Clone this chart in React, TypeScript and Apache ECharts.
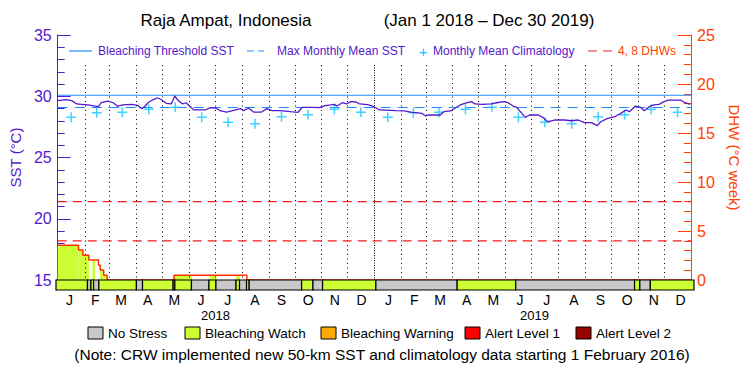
import React, { useEffect, useRef } from "react";
import * as echarts from "echarts";

// ---- data (x values are days since 2018-01-01) ----
const monthStarts = [0, 31, 59, 90, 120, 151, 181, 212, 243, 273, 304, 334, 365, 396, 424, 455, 485, 516, 546, 577, 608, 638, 669, 699, 730];
const monthLetters = ["J", "F", "M", "A", "M", "J", "J", "A", "S", "O", "N", "D"];
const years = ["2018", "2019"];
const yearMid = [182.5, 547.5];

const sstSeries: [number, number][] = [
  [0, 29.64], [10, 29.72], [16, 29.64], [22, 29.37], [27, 29.34], [35, 29.29], [43, 29.2], [47, 29.15], [50, 29.47], [58, 29.61],
  [64, 29.47], [69, 29.18], [75, 29.29], [85, 29.34], [92, 29.26], [97, 28.99], [101, 29.2], [104, 29.47], [109, 29.69], [115, 29.88],
  [120, 29.69], [125, 29.42], [131, 29.37], [135, 30.02], [139, 29.64], [144, 29.37], [148, 29.47], [151, 29.26], [157, 28.88], [170, 28.88],
  [176, 29.07], [182, 29.04], [188, 28.8], [195, 28.71], [205, 28.88], [211, 28.99], [214, 28.82], [220, 29.02], [226, 28.71], [235, 28.71],
  [241, 28.99], [247, 28.82], [256, 28.82], [268, 28.74], [277, 28.69], [282, 29.1], [294, 29.1], [302, 29.07], [308, 29.23], [315, 29.29],
  [319, 29.34], [322, 29.2], [328, 29.47], [333, 29.37], [338, 29.56], [344, 29.53], [348, 29.37], [357, 29.31], [363, 29.2], [371, 28.88],
  [390, 28.82], [399, 28.8], [409, 28.69], [420, 28.6], [424, 28.39], [428, 28.47], [441, 28.47], [445, 28.74], [453, 28.8], [458, 29.02],
  [464, 29.29], [472, 29.47], [477, 29.56], [481, 29.37], [489, 29.34], [500, 29.37], [506, 29.47], [514, 29.56], [519, 29.47], [525, 29.2],
  [529, 29.1], [535, 28.6], [539, 28.28], [544, 28.47], [554, 28.47], [559, 28.28], [565, 27.92], [573, 28.06], [584, 28.06], [592, 28.0],
  [600, 28.06], [607, 27.84], [615, 27.84], [622, 27.6], [626, 27.92], [634, 28.2], [642, 28.33], [649, 28.6], [655, 28.88], [659, 28.74],
  [666, 29.2], [672, 29.1], [676, 28.82], [682, 29.15], [687, 29.29], [693, 29.34], [699, 29.56], [704, 29.69], [718, 29.69], [723, 29.47],
  [729, 29.34],
];

const climMonthly = [28.28, 28.66, 28.69, 28.93, 29.1, 28.28, 27.87, 27.76, 28.33, 28.5, 28.93, 28.69];
const mmm = 29.08;
const bleachThreshold = 30.08;
const dhwLevels = [4, 8];

// DHW steps: [startDay, value] holds until next start
const dhwSteps: [number, number][] = [
  [0, 3.54], [24, 3.06], [29, 2.52], [36, 2.04], [47, 1.5], [49, 1.02], [53, 0.48], [57, 0], [134, 0.48], [218, 0], [730, 0],
];

// stress level segments: [startDay, level]
const stressSegments: [number, number][] = [
  [0, 1], [36, 0], [40, 1], [43, 0], [49, 1], [92, 0], [99, 1], [134, 2], [136, 1], [155, 0], [175, 1], [183, 0],
  [206, 1], [210, 0], [218, 1], [221, 0], [281, 1], [294, 0], [305, 1], [366, 0], [459, 1], [526, 0], [662, 1],
  [668, 0], [680, 1],
];
const stressEnd = 730;
const stressNames = ["No Stress", "Bleaching Watch", "Bleaching Warning", "Alert Level 1", "Alert Level 2"];
const stressColors = ["#c8c8c8", "#ccff33", "#ffaa00", "#ff0000", "#990000"];

const sstMin = 15, sstMax = 35, dhwMin = 0, dhwMax = 25, dayMax = 730;

const PURPLE = "#5519cc";
const BLUE = "#1e8cff";
const CYAN = "#12c4ff";
const ORANGE = "#ff4000";
const RED = "#f01e1e";
const FONT = "Liberation Sans";

export default function App() {
  const ref = useRef<HTMLDivElement>(null);
  useEffect(() => {
    if (!ref.current) return;
    const chart = echarts.init(ref.current, undefined, { renderer: "svg" });

    const stressData = stressSegments.map((s, i) => [
      s[0], i + 1 < stressSegments.length ? stressSegments[i + 1][0] : stressEnd, s[1],
    ]);
    const fillData: number[][] = [];
    for (let i = 0; i < dhwSteps.length - 1; i++) {
      const [s, v] = dhwSteps[i];
      const e = dhwSteps[i + 1][0];
      if (v <= 0) continue;
      stressData.forEach(([ss, se, lvl]) => {
        if (lvl === 0) return;
        const a = Math.max(s, ss), b = Math.min(e, se);
        if (b > a) fillData.push([a, b, v, lvl]);
      });
    }
    const climData: number[][] = [];
    for (let i = 0; i < 24; i++) {
      climData.push([(monthStarts[i] + monthStarts[i + 1]) / 2, climMonthly[i % 12]]);
    }
    const monthMids = climData.map((d) => d[0]);
    const gridLines = monthStarts.slice(1, -1);
    const plus = "path://M4.25,0h1.5v4.25h4.25v1.5h-4.25v4.25h-1.5v-4.25h-4.25v-1.5h4.25z";

    const legendY = 51;
    const graphic: any[] = [
      { type: "text", x: 226, y: 20, style: { text: "Raja Ampat, Indonesia", font: `17px ${FONT}`, fill: "#000", align: "center", verticalAlign: "middle" } },
      { type: "text", x: 489, y: 20, style: { text: "(Jan 1 2018 – Dec 30 2019)", font: `17px ${FONT}`, fill: "#000", align: "center", verticalAlign: "middle" } },
      { type: "line", shape: { x1: 69, y1: legendY, x2: 92, y2: legendY }, style: { stroke: BLUE, lineWidth: 1.2 } },
      { type: "text", x: 98, y: legendY, style: { text: "Bleaching Threshold SST", font: `12px ${FONT}`, fill: PURPLE, verticalAlign: "middle" } },
      { type: "line", shape: { x1: 247, y1: legendY, x2: 264, y2: legendY }, style: { stroke: BLUE, lineWidth: 1.2, lineDash: [7, 4] } },
      { type: "text", x: 277, y: legendY, style: { text: "Max Monthly Mean SST", font: `12px ${FONT}`, fill: PURPLE, verticalAlign: "middle" } },
      { type: "text", x: 423, y: legendY, style: { text: "+", font: `15px ${FONT}`, fill: CYAN, align: "center", verticalAlign: "middle" } },
      { type: "text", x: 433, y: legendY, style: { text: "Monthly Mean Climatology", font: `12px ${FONT}`, fill: PURPLE, verticalAlign: "middle" } },
      { type: "line", shape: { x1: 588, y1: legendY, x2: 612, y2: legendY }, style: { stroke: RED, lineWidth: 1.2, lineDash: [9, 6] } },
      { type: "text", x: 618, y: legendY, style: { text: "4, 8 DHWs", font: `12px ${FONT}`, fill: ORANGE, verticalAlign: "middle" } },
      { type: "text", x: 382, y: 354, style: { text: "(Note: CRW implemented new 50-km SST and climatology data starting 1 February 2016)", font: `15.5px ${FONT}`, fill: "#000", align: "center", verticalAlign: "middle" } },
    ];
    const boxX = [88, 185, 321, 465, 576];
    stressNames.forEach((n, i) => {
      graphic.push({ type: "rect", shape: { x: boxX[i], y: 327, width: 15, height: 12 }, style: { fill: stressColors[i], stroke: "#000", lineWidth: 1 } });
      graphic.push({ type: "text", x: boxX[i] + 20, y: 333, style: { text: n, font: `13.5px ${FONT}`, fill: "#000", verticalAlign: "middle" } });
    });

    const hLine = (name: string, y: number, yAxisIndex: number, color: string, type: any, width = 1.2) => ({
      name, type: "line", xAxisIndex: 0, yAxisIndex, data: [[0, y], [dayMax, y]], symbol: "none", silent: true,
      lineStyle: { color, width, type }, z: 3,
    });

    chart.setOption({
      animation: false,
      textStyle: { fontFamily: FONT },
      grid: [
        { left: 56, right: 56, top: 35, height: 245, show: false },
        { left: 56, right: 56, top: 280, height: 10, show: false },
      ],
      xAxis: [
        { gridIndex: 0, type: "value", min: 0, max: dayMax, position: "top", axisLine: { show: true, lineStyle: { color: "#000", width: 1 } }, axisTick: { show: false }, axisLabel: { show: false }, splitLine: { show: false } },
        {
          gridIndex: 1, type: "value", min: 0, max: dayMax, position: "bottom", axisLine: { show: false }, axisTick: { show: false }, splitLine: { show: false },
          axisLabel: { customValues: monthMids, formatter: (v: number) => { const i = monthMids.findIndex((m) => Math.abs(m - v) < 0.01); return i >= 0 ? monthLetters[i % 12] : ""; }, color: "#000", fontSize: 14, margin: 3, fontFamily: FONT },
        },
        {
          gridIndex: 1, type: "value", min: 0, max: dayMax, position: "bottom", offset: 16, axisLine: { show: false }, axisTick: { show: false }, splitLine: { show: false },
          axisLabel: { customValues: yearMid, formatter: (v: number) => { const i = yearMid.findIndex((m) => Math.abs(m - v) < 0.01); return i >= 0 ? years[i] : ""; }, color: "#000", fontSize: 13, margin: 3, fontFamily: FONT },
        },
      ],
      yAxis: [
        {
          gridIndex: 0, type: "value", min: sstMin, max: sstMax, interval: 5, position: "left",
          axisLine: { show: true, lineStyle: { color: PURPLE, width: 1 } },
          axisTick: { show: true, inside: true, length: 13, lineStyle: { color: PURPLE } },
          minorTick: { show: true, splitNumber: 5, length: 7, lineStyle: { color: PURPLE } },
          axisLabel: { color: PURPLE, fontSize: 16, margin: 6, fontFamily: FONT },
          splitLine: { show: false },
          name: "SST (°C)", nameLocation: "middle", nameGap: 33, nameRotate: 90,
          nameTextStyle: { color: PURPLE, fontSize: 15, fontFamily: FONT },
        },
        {
          gridIndex: 0, type: "value", min: dhwMin, max: dhwMax, interval: 5, position: "right",
          axisLine: { show: true, lineStyle: { color: ORANGE, width: 1 } },
          axisTick: { show: true, inside: true, length: 13, lineStyle: { color: ORANGE } },
          minorTick: { show: true, splitNumber: 5, length: 7, lineStyle: { color: ORANGE } },
          axisLabel: { color: ORANGE, fontSize: 16, margin: 6, fontFamily: FONT },
          splitLine: { show: false },
          name: "DHW (°C week)", nameLocation: "middle", nameGap: 36, nameRotate: -90,
          nameTextStyle: { color: ORANGE, fontSize: 15, fontFamily: FONT },
        },
        { gridIndex: 1, type: "value", min: 0, max: 1, position: "left", axisLine: { show: true, lineStyle: { color: PURPLE } }, axisTick: { show: false }, axisLabel: { show: false }, splitLine: { show: false } },
        { gridIndex: 1, type: "value", min: 0, max: 1, position: "right", axisLine: { show: true, lineStyle: { color: ORANGE } }, axisTick: { show: false }, axisLabel: { show: false }, splitLine: { show: false } },
      ],
      graphic,
      series: [
        {
          name: "DHW fill", type: "custom", xAxisIndex: 0, yAxisIndex: 1, data: fillData, silent: true, z: 1,
          encode: { x: [0, 1], y: 2 },
          renderItem: (_p: any, api: any) => {
            const p0 = api.coord([api.value(0), api.value(2)]);
            const p1 = api.coord([api.value(1), 0]);
            return { type: "rect", shape: { x: p0[0], y: p0[1], width: p1[0] - p0[0], height: p1[1] - p0[1] }, style: { fill: stressColors[api.value(3)] } };
          },
        },
        {
          name: "Month lines", type: "custom", xAxisIndex: 0, yAxisIndex: 0, data: gridLines.map((d) => [d]), silent: true, z: 2,
          encode: { x: 0 },
          renderItem: (_p: any, api: any) => {
            const d = api.value(0);
            const top = api.coord([d, 32.55]);
            const bot = api.coord([d, sstMin]);
            const isYear = d === 365;
            return { type: "line", shape: { x1: Math.round(top[0]) + 0.5, y1: top[1], x2: Math.round(top[0]) + 0.5, y2: bot[1] }, style: { stroke: "#000", lineWidth: 1, lineDash: isYear ? [1, 1.5] : [1, 3.5] } };
          },
        },
        hLine("Bleaching Threshold SST", bleachThreshold, 0, BLUE, "solid"),
        hLine("Max Monthly Mean SST", mmm, 0, BLUE, [10, 7]),
        ...dhwLevels.map((l) => hLine(`${l} DHWs`, l, 1, RED, [9, 6])),
        {
          name: "Monthly Mean Climatology", type: "scatter", xAxisIndex: 0, yAxisIndex: 0, data: climData,
          symbol: plus, symbolSize: 10, itemStyle: { color: CYAN }, z: 4, silent: true,
        },
        {
          name: "SST", type: "line", xAxisIndex: 0, yAxisIndex: 0, data: sstSeries, symbol: "none", silent: true,
          lineStyle: { color: PURPLE, width: 1.3 }, z: 5,
        },
        {
          name: "DHW", type: "line", xAxisIndex: 0, yAxisIndex: 1, data: dhwSteps, step: "end", symbol: "none", silent: true,
          lineStyle: { color: "#ff3300", width: 1.5 }, z: 5,
        },
        {
          name: "Stress", type: "custom", xAxisIndex: 1, yAxisIndex: 2, data: stressData, silent: true, z: 6,
          encode: { x: [0, 1] },
          renderItem: (_p: any, api: any) => {
            const p0 = api.coord([api.value(0), 1]);
            const p1 = api.coord([api.value(1), 0]);
            return { type: "rect", shape: { x: p0[0], y: p0[1], width: p1[0] - p0[0], height: p1[1] - p0[1] }, style: { fill: stressColors[api.value(2)], stroke: "#000", lineWidth: 1.2 } };
          },
        },
      ],
    });
    return () => chart.dispose();
  }, []);
  return <div ref={ref} style={{ width: 750, height: 375, position: "absolute", left: 0, top: 0, background: "#fff" }} />;
}
